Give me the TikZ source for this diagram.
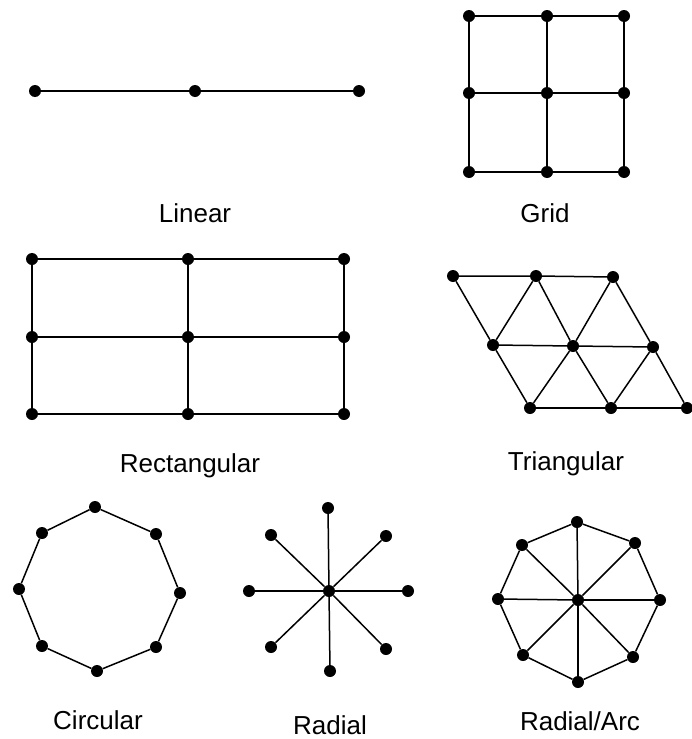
\documentclass[tikz,border=0pt]{standalone}
\usepackage{fontspec}
\setmainfont{Liberation Sans}
\usetikzlibrary{positioning,calc}

\begin{document}
\begin{tikzpicture}[x=1pt, y=-1pt,
    dot/.style={circle, fill=black, inner sep=0pt, minimum size=12pt},
    link/.style={line width=1.5pt},
    lbl/.style={font=\fontsize{26}{30}\selectfont}]
    \useasboundingbox (0,0) rectangle (691,739);
    % Linear
    \node[dot] (l1) at (35,91) {};
    \node[dot] (l2) at (195,91) {};
    \node[dot] (l3) at (359,91) {};
    \draw[link] (l1) -- (l2) -- (l3);
    \node[lbl] (linlbl) at (195,213) {Linear};

    % Grid
    \foreach \i/\x in {1/469,2/547,3/624}
        \foreach \j/\y in {1/16,2/93,3/172}
            \node[dot] (g\i\j) at (\x,\y) {};
    \foreach \k in {1,2,3} {
        \draw[link] (g1\k) -- (g2\k) -- (g3\k);
        \draw[link] (g\k1) -- (g\k2) -- (g\k3);
    }
    \node[lbl] (gridlbl) at (545,213) {Grid};

    % Rectangular
    \foreach \i/\x in {1/32,2/188,3/344}
        \foreach \j/\y in {1/259,2/337,3/414}
            \node[dot] (r\i\j) at (\x,\y) {};
    \foreach \k in {1,2,3} {
        \draw[link] (r1\k) -- (r2\k) -- (r3\k);
        \draw[link] (r\k1) -- (r\k2) -- (r\k3);
    }
    \node[lbl] (rectlbl) at (190,466) {Rectangular};

    % Triangular
    \node[dot] (t1) at (453,276) {};
    \node[dot] (t2) at (536,276) {};
    \node[dot] (t3) at (613,277) {};
    \node[dot] (m1) at (493,345) {};
    \node[dot] (m2) at (573,346) {};
    \node[dot] (m3) at (653,347) {};
    \node[dot] (b1) at (530,408) {};
    \node[dot] (b2) at (611,408) {};
    \node[dot] (b3) at (687,408) {};
    \draw[link] (t1) -- (t2) -- (t3);
    \draw[link] (m1) -- (m2) -- (m3);
    \draw[link] (b1) -- (b2) -- (b3);
    \draw[link] (t1) -- (m1) -- (b1);
    \draw[link] (t2) -- (m2) -- (b2);
    \draw[link] (t3) -- (m3) -- (b3);
    \draw[link] (t2) -- (m1);
    \draw[link] (t3) -- (m2) -- (b1);
    \draw[link] (m3) -- (b2);
    \node[lbl] (trilbl) at (566,464) {Triangular};

    % Circular
    \node[dot] (c1) at (95,507) {};
    \node[dot] (c2) at (156,534) {};
    \node[dot] (c3) at (180,593) {};
    \node[dot] (c4) at (156,647) {};
    \node[dot] (c5) at (97,671) {};
    \node[dot] (c6) at (42,646) {};
    \node[dot] (c7) at (19,589) {};
    \node[dot] (c8) at (42,533) {};
    \draw[link] (c1) -- (c2) -- (c3) -- (c4) -- (c5) -- (c6) -- (c7) -- (c8) -- (c1);
    \node[lbl] (circlbl) at (98,720) {Circular};

    % Radial
    \node[dot] (s0) at (329,591) {};
    \node[dot] (s1) at (328,508) {};
    \node[dot] (s2) at (386,536) {};
    \node[dot] (s3) at (408,591) {};
    \node[dot] (s4) at (386,649) {};
    \node[dot] (s5) at (330,671) {};
    \node[dot] (s6) at (271,647) {};
    \node[dot] (s7) at (249,591) {};
    \node[dot] (s8) at (271,535) {};
    \foreach \k in {1,...,8}
        \draw[link] (s0) -- (s\k);
    \node[lbl] (radlbl) at (330,725) {Radial};

    % Radial/Arc
    \node[dot] (a0) at (578,600) {};
    \node[dot] (a1) at (577,522) {};
    \node[dot] (a2) at (635,543) {};
    \node[dot] (a3) at (660,600) {};
    \node[dot] (a4) at (633,657) {};
    \node[dot] (a5) at (578,682) {};
    \node[dot] (a6) at (523,655) {};
    \node[dot] (a7) at (498,599) {};
    \node[dot] (a8) at (522,545) {};
    \foreach \k in {1,...,8}
        \draw[link] (a0) -- (a\k);
    \draw[link] (a1) -- (a2) -- (a3) -- (a4) -- (a5) -- (a6) -- (a7) -- (a8) -- (a1);
    \node[lbl] (arclbl) at (580,721) {Radial/Arc};
\end{tikzpicture}
\end{document}
